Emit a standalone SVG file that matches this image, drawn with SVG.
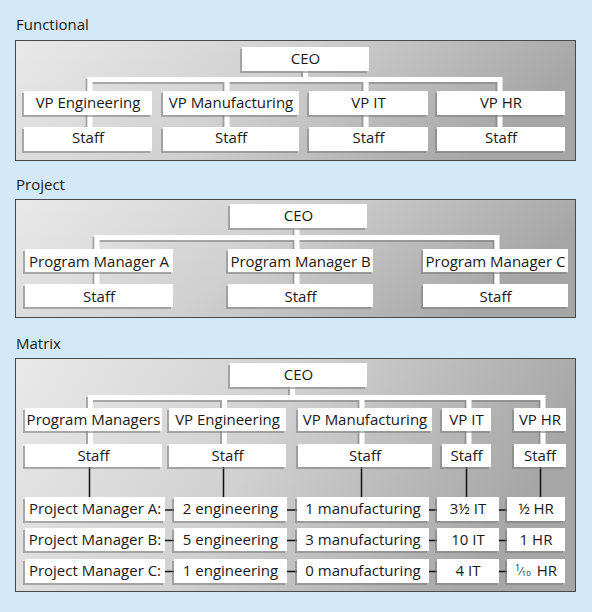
<svg xmlns="http://www.w3.org/2000/svg" width="592" height="612" viewBox="0 0 592 612">
<defs>
<linearGradient id="pg" x1="0" y1="0" x2="1" y2="0.25">
<stop offset="0" stop-color="#e9e9e9"/>
<stop offset="0.5" stop-color="#d0d0d0"/>
<stop offset="1" stop-color="#a6a6a6"/>
</linearGradient>
<filter id="sh" x="-10%" y="-20%" width="120%" height="150%">
<feDropShadow dx="-2" dy="2" stdDeviation="0.7" flood-color="#7a7a7a" flood-opacity="0.55"/>
</filter>
<style>
.panel{fill:url(#pg);stroke:#4a4a4a;stroke-width:1}
.box{fill:#ffffff;filter:url(#sh)}
.t{font-family:"Open Sans","Noto Sans","Liberation Sans",sans-serif;font-size:15px;fill:#1a1a1a;text-anchor:middle}
.lbl{font-family:"Open Sans","Noto Sans","Liberation Sans",sans-serif;font-size:15px;fill:#1a1a1a}
.wl{fill:none;stroke:#ffffff;stroke-width:5;filter:url(#sh)}
.bl{fill:none;stroke:#111111;stroke-width:1.5}
</style>
</defs>
<rect x="0" y="0" width="592" height="612" fill="#d4e9f7"/>

<!-- Panels -->
<text class="lbl" x="16" y="30">Functional</text>
<rect class="panel" x="15.5" y="40.5" width="560" height="120"/>
<text class="lbl" x="16" y="190">Project</text>
<rect class="panel" x="15.5" y="199.5" width="560" height="118"/>
<text class="lbl" x="16" y="349">Matrix</text>
<rect class="panel" x="15.5" y="358.5" width="560" height="233"/>

<!-- Connectors -->
<g id="connectors">
<path class="wl" d="M305.5,70 V79.5 M90,128 V79.5 H500 V128 M227,79.5 V128 M366,79.5 V128"/>
<path class="wl" d="M297,228 V237.5 M97,286 V237.5 H497 V286 M297,237.5 V286"/>
<path class="wl" d="M292.5,387 V397.5 M90.5,446 V397.5 H543 V446 M224.5,397.5 V446 M362,397.5 V446 M469,397.5 V446"/>
<path class="bl" d="M89.5,467 V498 M223.5,467 V498 M361.5,467 V498 M466.5,467 V498 M540.5,467 V498"/>
<path class="bl" d="M162,510 H508 M162,540.5 H508 M162,571.5 H508"/>
</g>

<!-- Functional -->
<g id="f-ceo"><rect class="box" x="242" y="47" width="127" height="24"/><text class="t" x="305.5" y="64">CEO</text></g>
<g id="f-vpeng"><rect class="box" x="24" y="91" width="128" height="24"/><text class="t" x="88" y="108">VP Engineering</text></g>
<g id="f-vpmfg"><rect class="box" x="163" y="91" width="136" height="24"/><text class="t" x="231" y="108">VP Manufacturing</text></g>
<g id="f-vpit"><rect class="box" x="309" y="91" width="119" height="24"/><text class="t" x="368.5" y="108">VP IT</text></g>
<g id="f-vphr"><rect class="box" x="437" y="91" width="128" height="24"/><text class="t" x="501" y="108">VP HR</text></g>
<g id="f-staff1"><rect class="box" x="24" y="127" width="128" height="24"/><text class="t" x="88" y="143">Staff</text></g>
<g id="f-staff2"><rect class="box" x="163" y="127" width="136" height="24"/><text class="t" x="231" y="143">Staff</text></g>
<g id="f-staff3"><rect class="box" x="309" y="127" width="119" height="24"/><text class="t" x="368.5" y="143">Staff</text></g>
<g id="f-staff4"><rect class="box" x="437" y="127" width="128" height="24"/><text class="t" x="501" y="143">Staff</text></g>

<!-- Project -->
<g id="p-ceo"><rect class="box" x="230" y="204" width="137" height="24"/><text class="t" x="298.5" y="221">CEO</text></g>
<g id="p-pma"><rect class="box" x="25" y="249" width="148" height="23"/><text class="t" x="99" y="267">Program Manager A</text></g>
<g id="p-pmb"><rect class="box" x="228" y="249" width="145" height="23"/><text class="t" x="300.5" y="267">Program Manager B</text></g>
<g id="p-pmc"><rect class="box" x="423" y="249" width="145" height="23"/><text class="t" x="495.5" y="267">Program Manager C</text></g>
<g id="p-staffa"><rect class="box" x="25" y="284" width="148" height="23"/><text class="t" x="99" y="302">Staff</text></g>
<g id="p-staffb"><rect class="box" x="228" y="284" width="145" height="23"/><text class="t" x="300.5" y="302">Staff</text></g>
<g id="p-staffc"><rect class="box" x="423" y="284" width="145" height="23"/><text class="t" x="495.5" y="302">Staff</text></g>

<!-- Matrix -->
<g id="m-ceo"><rect class="box" x="230" y="363" width="137" height="24"/><text class="t" x="298.5" y="380">CEO</text></g>
<g id="m-pms"><rect class="box" x="25" y="408" width="137" height="23"/><text class="t" x="93.5" y="425">Program Managers</text></g>
<g id="m-vpeng"><rect class="box" x="169" y="408" width="117" height="23"/><text class="t" x="227.5" y="425">VP Engineering</text></g>
<g id="m-vpmfg"><rect class="box" x="298" y="408" width="134" height="23"/><text class="t" x="365" y="425">VP Manufacturing</text></g>
<g id="m-vpit"><rect class="box" x="442" y="408" width="49" height="23"/><text class="t" x="466.5" y="425">VP IT</text></g>
<g id="m-vphr"><rect class="box" x="514" y="408" width="52" height="23"/><text class="t" x="540" y="425">VP HR</text></g>
<g id="m-staff1"><rect class="box" x="25" y="444" width="137" height="23"/><text class="t" x="93.5" y="461">Staff</text></g>
<g id="m-staff2"><rect class="box" x="169" y="444" width="117" height="23"/><text class="t" x="227.5" y="461">Staff</text></g>
<g id="m-staff3"><rect class="box" x="298" y="444" width="134" height="23"/><text class="t" x="365" y="461">Staff</text></g>
<g id="m-staff4"><rect class="box" x="442" y="444" width="49" height="23"/><text class="t" x="466.5" y="461">Staff</text></g>
<g id="m-staff5"><rect class="box" x="514" y="444" width="52" height="23"/><text class="t" x="540" y="461">Staff</text></g>

<g id="m-pma"><rect class="box" x="25" y="497" width="140" height="24"/><text class="t" x="95" y="514">Project Manager A:</text></g>
<g id="m-a-eng"><rect class="box" x="174" y="497" width="113" height="24"/><text class="t" x="230.5" y="514">2 engineering</text></g>
<g id="m-a-mfg"><rect class="box" x="297" y="497" width="132" height="24"/><text class="t" x="363" y="514">1 manufacturing</text></g>
<g id="m-a-it"><rect class="box" x="437" y="497" width="62" height="24"/><text class="t" x="468" y="514">3½ IT</text></g>
<g id="m-a-hr"><rect class="box" x="507" y="497" width="58" height="24"/><text class="t" x="536" y="514">½ HR</text></g>

<g id="m-pmb"><rect class="box" x="25" y="528" width="140" height="23"/><text class="t" x="95" y="545">Project Manager B:</text></g>
<g id="m-b-eng"><rect class="box" x="174" y="528" width="113" height="23"/><text class="t" x="230.5" y="545">5 engineering</text></g>
<g id="m-b-mfg"><rect class="box" x="297" y="528" width="132" height="23"/><text class="t" x="363" y="545">3 manufacturing</text></g>
<g id="m-b-it"><rect class="box" x="437" y="528" width="62" height="23"/><text class="t" x="468" y="545">10 IT</text></g>
<g id="m-b-hr"><rect class="box" x="507" y="528" width="58" height="23"/><text class="t" x="536" y="545">1 HR</text></g>

<g id="m-pmc"><rect class="box" x="25" y="559" width="140" height="24"/><text class="t" x="95" y="576">Project Manager C:</text></g>
<g id="m-c-eng"><rect class="box" x="174" y="559" width="113" height="24"/><text class="t" x="230.5" y="576">1 engineering</text></g>
<g id="m-c-mfg"><rect class="box" x="297" y="559" width="132" height="24"/><text class="t" x="363" y="576">0 manufacturing</text></g>
<g id="m-c-it"><rect class="box" x="437" y="559" width="62" height="24"/><text class="t" x="468" y="576">4 IT</text></g>
<g id="m-c-hr"><rect class="box" x="507" y="559" width="58" height="24"/><text class="t" x="536" y="576"><tspan font-size="9" dy="-5">1</tspan><tspan font-size="11" dy="4">⁄</tspan><tspan font-size="8" dy="1">10</tspan><tspan dx="2"> HR</tspan></text></g>
</svg>
